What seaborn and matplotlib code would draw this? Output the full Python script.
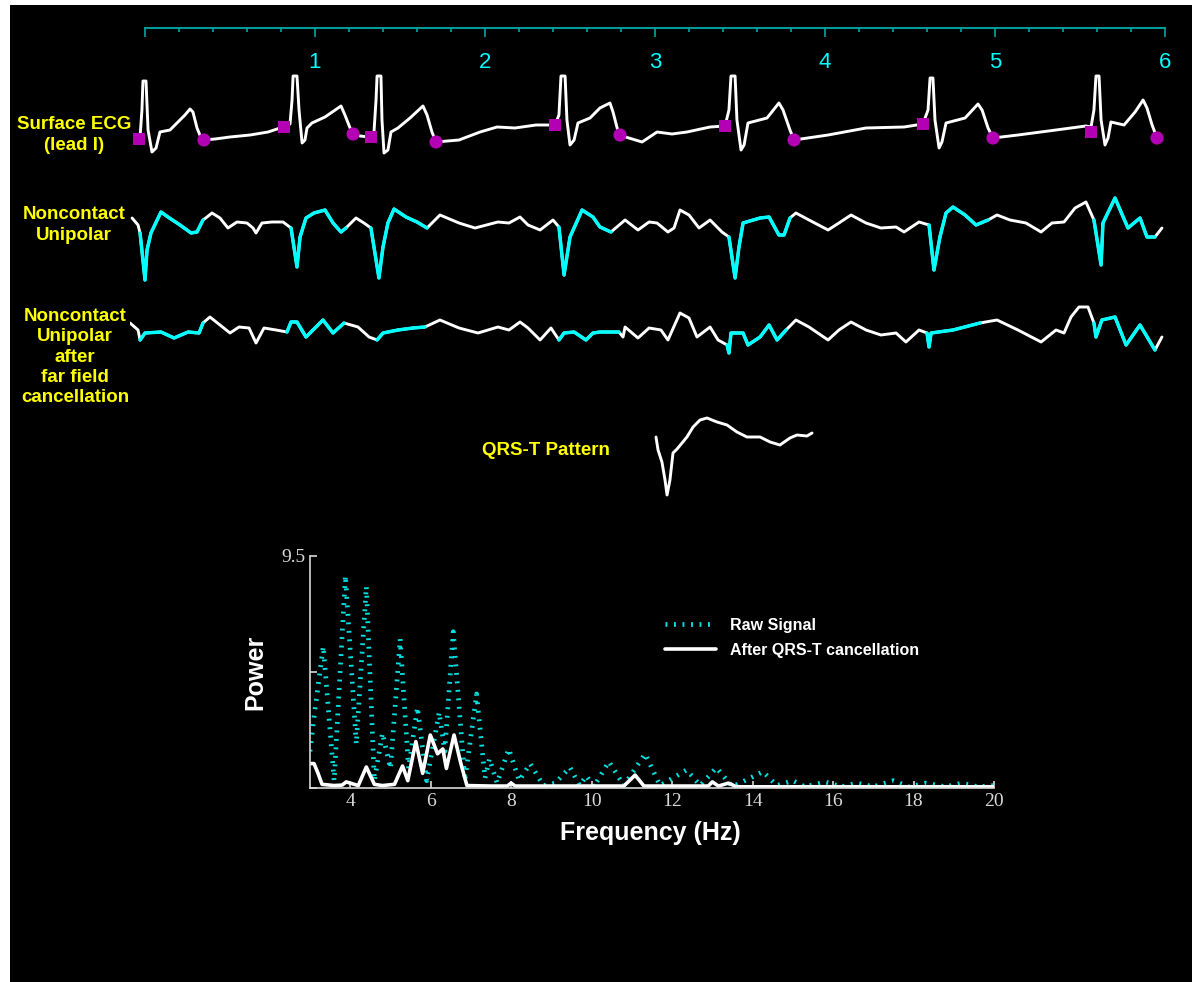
import matplotlib
matplotlib.use("Agg")
import matplotlib.pyplot as plt
from matplotlib.patches import Rectangle
from matplotlib.ticker import MultipleLocator
import numpy as np
import pandas as pd
import seaborn as sns

# -----------------------------
# DATA
# -----------------------------

# time ruler (seconds)
ruler_ticks = [0, 1, 2, 3, 4, 5, 6]
ruler_labels = ["", "1", "2", "3", "4", "5", "6"]

# surface ECG, lead I (time in s, amplitude in arbitrary units)
ecg_t = [-0.029, -0.018, -0.012, 0.006, 0.018, 0.041, 0.065, 0.088, 0.147, 0.194,
         0.235, 0.265, 0.282, 0.306, 0.335, 0.412, 0.5, 0.618, 0.724, 0.812,
         0.853, 0.865, 0.871, 0.894, 0.906, 0.924, 0.941, 0.953, 0.982, 1.059,
         1.153, 1.176, 1.218, 1.265, 1.318, 1.347, 1.359, 1.365, 1.388, 1.394,
         1.406, 1.429, 1.447, 1.488, 1.559, 1.635, 1.659, 1.688, 1.712, 1.847,
         1.971, 2.071, 2.176, 2.3, 2.412, 2.435, 2.447, 2.471, 2.482, 2.5,
         2.524, 2.547, 2.618, 2.676, 2.735, 2.753, 2.788, 2.924, 3.012, 3.1,
         3.188, 3.324, 3.412, 3.435, 3.447, 3.471, 3.482, 3.506, 3.524, 3.547,
         3.659, 3.729, 3.753, 3.794, 3.818, 4.018, 4.241, 4.465, 4.576, 4.606,
         4.618, 4.635, 4.647, 4.671, 4.688, 4.712, 4.824, 4.9, 4.924, 4.959,
         4.988, 5.135, 5.359, 5.535, 5.565, 5.582, 5.594, 5.612, 5.624, 5.647,
         5.665, 5.682, 5.759, 5.824, 5.871, 5.894, 5.924, 5.953]
ecg_amp = [3, 30, 59, 59, 10, -12, -8, 8, 10, 18,
           25, 31, 28, 12, 0, 1, 3, 5, 8, 13,
           16, 40, 64, 64, 30, -3, 0, 12, 17, 23,
           34, 25, 7, 4, 3, 8, 40, 64, 64, 20,
           -13, -10, 8, 12, 22, 34, 25, 8, -2, 0,
           8, 13, 12, 15, 15, 25, 64, 64, 20, -5,
           0, 17, 22, 32, 37, 28, 5, -2, 8, 6,
           8, 13, 14, 30, 64, 64, 20, -10, -5, 17,
           22, 37, 30, 10, 0, 5, 12, 13, 16, 30,
           62, 62, 20, -8, -2, 17, 22, 36, 30, 12,
           2, 5, 10, 14, 13, 30, 64, 64, 20, -5,
           2, 18, 15, 28, 40, 32, 15, 2]

# QRS onset (squares) and T-wave end (circles) marks on the ECG
qrs_onset_t = [-0.035, 0.818, 1.329, 2.412, 3.412, 4.576, 5.565]
qrs_onset_amp = [1, 13, 3, 15, 14, 16, 8]
t_end_t = [0.347, 1.224, 1.712, 2.794, 3.818, 4.988, 5.953]
t_end_amp = [0, 6, -2, 5, 0, 2, 2]

# noncontact unipolar electrogram
uni_t = [-0.076, -0.041, -0.029, 0.0, 0.012, 0.035, 0.094, 0.135, 0.206, 0.271,
         0.306, 0.341, 0.365, 0.394, 0.441, 0.488, 0.541, 0.6, 0.635, 0.653,
         0.688, 0.747, 0.812, 0.859, 0.894, 0.912, 0.947, 0.994, 1.059, 1.106,
         1.153, 1.182, 1.241, 1.288, 1.329, 1.376, 1.4, 1.429, 1.465, 1.535,
         1.6, 1.659, 1.735, 1.847, 1.941, 2.076, 2.141, 2.206, 2.253, 2.324,
         2.4, 2.435, 2.465, 2.5, 2.571, 2.635, 2.676, 2.741, 2.824, 2.9,
         2.965, 3.012, 3.076, 3.112, 3.147, 3.2, 3.259, 3.324, 3.394, 3.435,
         3.471, 3.494, 3.518, 3.618, 3.671, 3.729, 3.759, 3.794, 3.829, 3.906,
         4.018, 4.082, 4.153, 4.241, 4.329, 4.418, 4.465, 4.553, 4.612, 4.641,
         4.676, 4.712, 4.753, 4.824, 4.888, 4.959, 5.012, 5.088, 5.182, 5.271,
         5.335, 5.406, 5.471, 5.535, 5.582, 5.624, 5.635, 5.706, 5.782, 5.853,
         5.894, 5.941, 5.982]
uni_amp = [4, -3, -11, -58, -28, -11, 10, 5, -3, -11,
           -10, 2, 5, 9, 4, -6, 0, -1, -6, -11,
           -1, 0, 0, -6, -45, -15, 4, 9, 12, -1,
           -10, -6, 4, -1, -6, -56, -25, -1, 13, 5,
           0, -6, 7, -1, -6, 0, -1, 5, -3, -8,
           2, -5, -53, -15, 12, 5, -5, -10, 2, -8,
           0, -1, -10, -6, 12, 7, -6, 2, -10, -15,
           -56, -25, -1, 4, 5, -13, -13, 4, 9, 2,
           -8, -1, 7, -1, -6, -5, -10, 0, -3, -48,
           -15, 9, 15, 7, -3, 2, 7, 2, -1, -10,
           -1, 0, 14, 20, 2, -43, -1, 24, -6, 4,
           -15, -15, -6]

# noncontact unipolar after far field cancellation
canc_t = [-0.088, -0.041, -0.029, 0.0, 0.094, 0.171, 0.253, 0.318, 0.341, 0.382,
          0.441, 0.5, 0.553, 0.612, 0.653, 0.7, 0.771, 0.835, 0.859, 0.894,
          0.947, 1.047, 1.106, 1.171, 1.253, 1.318, 1.365, 1.4, 1.488, 1.576,
          1.647, 1.735, 1.847, 1.959, 2.076, 2.141, 2.206, 2.253, 2.324, 2.388,
          2.435, 2.465, 2.524, 2.594, 2.635, 2.676, 2.788, 2.812, 2.824, 2.9,
          2.965, 3.035, 3.076, 3.147, 3.2, 3.247, 3.324, 3.371, 3.424, 3.435,
          3.447, 3.471, 3.518, 3.547, 3.618, 3.671, 3.718, 3.771, 3.829, 3.906,
          4.018, 4.082, 4.153, 4.241, 4.329, 4.418, 4.476, 4.553, 4.6, 4.612,
          4.624, 4.753, 4.912, 5.012, 5.135, 5.271, 5.359, 5.406, 5.447, 5.494,
          5.547, 5.582, 5.594, 5.629, 5.706, 5.771, 5.853, 5.941, 5.982]
canc_amp = [7, 0, -10, -3, -2, -8, -2, -3, 7, 13,
            5, -3, 3, 2, -13, 2, 0, -2, 8, 8,
            -7, 10, -3, 7, 3, -7, -10, -3, 0, 2,
            3, 10, 2, -3, 3, 0, 8, 2, -10, 2,
            -10, -3, -2, -10, -3, -2, -2, -7, 3, -8,
            2, 0, -10, 17, 12, -7, 3, -10, -15, -23,
            -3, -3, -3, -15, -7, 5, -10, 0, 10, 3,
            -10, 0, 8, 0, -5, -3, -12, 0, -3, -17,
            -3, 0, 7, 10, 0, -12, 0, -3, 13, 23,
            23, 7, -7, 10, 13, -15, 5, -20, -7]

# averaged QRS-T template
tmpl_t = [0.0, 0.012, 0.035, 0.053, 0.065, 0.082, 0.1, 0.124, 0.182, 0.218,
          0.259, 0.3, 0.359, 0.418, 0.476, 0.535, 0.612, 0.671, 0.729, 0.788,
          0.829, 0.888, 0.918]
tmpl_amp = [0, -13, -25, -43, -58, -43, -16, -12, 0, 10,
            17, 19, 15, 12, 5, 0, 0, -5, -8, -1,
            2, 1, 4]

# power spectra
raw_freq = [3.0, 3.1, 3.33, 3.6, 3.88, 4.15, 4.4, 4.6, 4.8, 5.0,
            5.24, 5.45, 5.67, 5.9, 6.21, 6.35, 6.56, 6.85, 7.14, 7.35,
            7.46, 7.65, 7.94, 8.2, 8.47, 8.8, 9.1, 9.46, 9.7, 9.87,
            10.05, 10.43, 10.8, 11.33, 11.7, 12.36, 12.7, 13.1, 13.5, 14.26,
            14.6, 15.0, 15.3, 15.8, 16.2, 16.6, 17.0, 17.5, 17.9, 18.3,
            18.8, 19.2, 19.6, 20.0]
raw_power = [1.5, 2.9, 5.8, 0.3, 8.7, 1.8, 8.25, 0.3, 2.25, 0.8,
             6.1, 0.8, 3.3, 0.3, 3.1, 1.5, 6.4, 0.3, 3.85, 0.4,
             1.2, 0.2, 1.6, 0.3, 1.0, 0.1, 0.2, 0.85, 0.1, 0.5,
             0.05, 1.08, 0.1, 1.4, 0.1, 0.74, 0.1, 0.83, 0.05, 0.67,
             0.1, 0.3, 0.05, 0.25, 0.05, 0.2, 0.05, 0.3, 0.05, 0.2,
             0.05, 0.2, 0.05, 0.1]
after_freq = [3.0, 3.1, 3.2, 3.3, 3.6, 3.8, 3.9, 4.0, 4.2, 4.4,
              4.6, 4.8, 5.1, 5.3, 5.43, 5.63, 5.8, 5.99, 6.17, 6.3,
              6.39, 6.58, 6.75, 6.9, 7.5, 7.9, 8.0, 8.1, 9.0, 10.0,
              10.8, 11.08, 11.3, 12.0, 12.9, 13.0, 13.15, 13.4, 13.6, 15.0,
              17.0, 19.0, 20.0]
after_power = [1.0, 1.0, 0.6, 0.15, 0.1, 0.12, 0.25, 0.2, 0.1, 0.86,
               0.15, 0.1, 0.15, 0.9, 0.3, 1.9, 0.6, 2.17, 1.4, 1.6,
               0.8, 2.17, 1.0, 0.1, 0.08, 0.08, 0.2, 0.08, 0.08, 0.08,
               0.08, 0.53, 0.08, 0.08, 0.08, 0.25, 0.08, 0.2, 0.05, 0.05,
               0.05, 0.05, 0.05]

# -----------------------------
# STYLE / LAYOUT
# -----------------------------

W, H, DPI = 1196, 982, 100
PX_PER_S = 170.0          # ruler: one second spans 170 px
T0_PX = 145               # pixel column of t = 0
YELLOW = "#ffff00"
CYAN = "#00ffff"
TEAL = "#009a9a"
MAGENTA = "#b400b4"
GREY = "#d8d8d8"

sns.set_style("ticks")
plt.rcParams["font.family"] = ["Liberation Sans", "DejaVu Sans"]

fig = plt.figure(figsize=(W / DPI, H / DPI), dpi=DPI, facecolor="white")
fig.add_artist(Rectangle((10 / W, 0), 1182 / W, 977 / H, transform=fig.transFigure,
                         facecolor="black", edgecolor="none", zorder=0))


def px_axes(x0, y0, x1, y1):
    ax = fig.add_axes([x0 / W, 1 - y1 / H, (x1 - x0) / W, (y1 - y0) / H])
    ax.patch.set_visible(False)
    return ax


def ftext(x, y, s, **kw):
    fig.text(x / W, 1 - y / H, s, ha="center", va="center", **kw)


TRACE_X0, TRACE_X1 = 130, 1180
XLIM = ((TRACE_X0 - T0_PX) / PX_PER_S, (TRACE_X1 - T0_PX) / PX_PER_S)


def window_segments(t, amp):
    rows = []
    for k, (t0, t1) in enumerate(zip(qrs_onset_t, t_end_t)):
        for ti, ai in zip(t, amp):
            if t0 <= ti <= t1:
                rows.append((k, ti, ai))
    return pd.DataFrame(rows, columns=["beat", "t", "amp"])


def trace(ax, t, amp, ylim, highlight=True):
    sns.lineplot(x=t, y=amp, ax=ax, color="white", lw=2.1, sort=False,
                 estimator=None)
    if highlight:
        seg = window_segments(t, amp)
        sns.lineplot(data=seg, x="t", y="amp", units="beat", estimator=None,
                     ax=ax, color=CYAN, lw=2.5, legend=False)
    ax.set_xlim(XLIM)
    ax.set_ylim(ylim)
    ax.set_axis_off()


# ---- time ruler ----
ax_r = px_axes(TRACE_X0, 8, TRACE_X1, 28)
ax_r.set_xlim(XLIM)
ax_r.set_ylim(0, 1)
for s in ["top", "left", "right"]:
    ax_r.spines[s].set_visible(False)
ax_r.spines["bottom"].set_bounds(0, 6)
ax_r.spines["bottom"].set_color(TEAL)
ax_r.spines["bottom"].set_linewidth(1.5)
ax_r.set_yticks([])
ax_r.set_xticks(ruler_ticks)
ax_r.set_xticklabels(ruler_labels)
ax_r.xaxis.set_minor_locator(MultipleLocator(0.2))
ax_r.tick_params(axis="x", which="major", direction="out", length=6.5, width=1.3,
                 color=TEAL, labelcolor=CYAN, labelsize=16, pad=11)
ax_r.tick_params(axis="x", which="minor", direction="out", length=3, width=1.3,
                 color=TEAL)

# ---- surface ECG ----
ax_ecg = px_axes(TRACE_X0, 60, TRACE_X1, 170)
trace(ax_ecg, ecg_t, ecg_amp, (-30, 80), highlight=False)
sns.scatterplot(x=qrs_onset_t, y=qrs_onset_amp, ax=ax_ecg, marker="s", s=85,
                color=MAGENTA, edgecolor="none", zorder=5)
sns.scatterplot(x=t_end_t, y=t_end_amp, ax=ax_ecg, marker="o", s=90,
                color=MAGENTA, edgecolor="none", zorder=5)
for c in ax_ecg.collections:
    c.set_clip_on(False)

# ---- noncontact unipolar ----
ax_uni = px_axes(TRACE_X0, 190, TRACE_X1, 290)
trace(ax_uni, uni_t, uni_amp, (-68, 32))

# ---- after far field cancellation ----
ax_canc = px_axes(TRACE_X0, 295, TRACE_X1, 365)
trace(ax_canc, canc_t, canc_amp, (-35, 35))

# ---- QRS-T pattern ----
ax_tm = px_axes(640, 405, 830, 505)
sns.lineplot(x=tmpl_t, y=tmpl_amp, ax=ax_tm, color="white", lw=2.1, sort=False,
             estimator=None)
ax_tm.set_xlim((640 - 656) / PX_PER_S, (830 - 656) / PX_PER_S)
ax_tm.set_ylim(-68, 32)
ax_tm.set_axis_off()

# ---- yellow labels ----
lab = dict(color=YELLOW, fontsize=13.5, fontweight="bold", linespacing=1.25)
ftext(74, 135, "Surface ECG\n(lead I)", **lab)
ftext(74, 225, "Noncontact\nUnipolar", **lab)
ftext(75, 357, "Noncontact\nUnipolar\nafter\nfar field\ncancellation", **lab)
ftext(546, 450, "QRS-T Pattern", **lab)

# ---- power spectrum ----
ax_s = px_axes(310, 556, 994, 788)
sns.lineplot(x=raw_freq, y=raw_power, ax=ax_s, color="#00e0e0", lw=3.4,
             linestyle=(0, (0.4, 1.4)), sort=False, estimator=None,
             label="Raw Signal")
sns.lineplot(x=after_freq, y=after_power, ax=ax_s, color="white", lw=2.6,
             sort=False, estimator=None, label="After QRS-T cancellation")
ax_s.set_xlim(3, 20)
ax_s.set_ylim(0, 9.5)
ax_s.set_xticks(np.arange(4, 21, 2))
ax_s.set_yticks([0, 4.75, 9.5])
ax_s.set_yticklabels(["", "", "9.5"])
for s in ["top", "right"]:
    ax_s.spines[s].set_visible(False)
for s in ["left", "bottom"]:
    ax_s.spines[s].set_color(GREY)
    ax_s.spines[s].set_linewidth(1.2)
ax_s.tick_params(direction="in", length=5, width=1.2, color=GREY,
                 labelcolor=GREY, labelsize=14, labelfontfamily="Liberation Serif")
ax_s.set_xlabel("")
ax_s.set_ylabel("")
leg = ax_s.legend(loc="upper left", bbox_to_anchor=(657 / W, 1 - 610 / H),
                  bbox_transform=fig.transFigure, frameon=False, fontsize=11.5,
                  handlelength=3.2, handletextpad=0.9, labelspacing=0.6,
                  borderpad=0)
for txt in leg.get_texts():
    txt.set_color("white")
    txt.set_fontweight("bold")

ftext(255, 672, "Power", color="white", fontsize=18, fontweight="bold",
      rotation=90)
ftext(650, 833, "Frequency (Hz)", color="white", fontsize=18, fontweight="bold")

fig.savefig("out.png", dpi=DPI, facecolor="white")
